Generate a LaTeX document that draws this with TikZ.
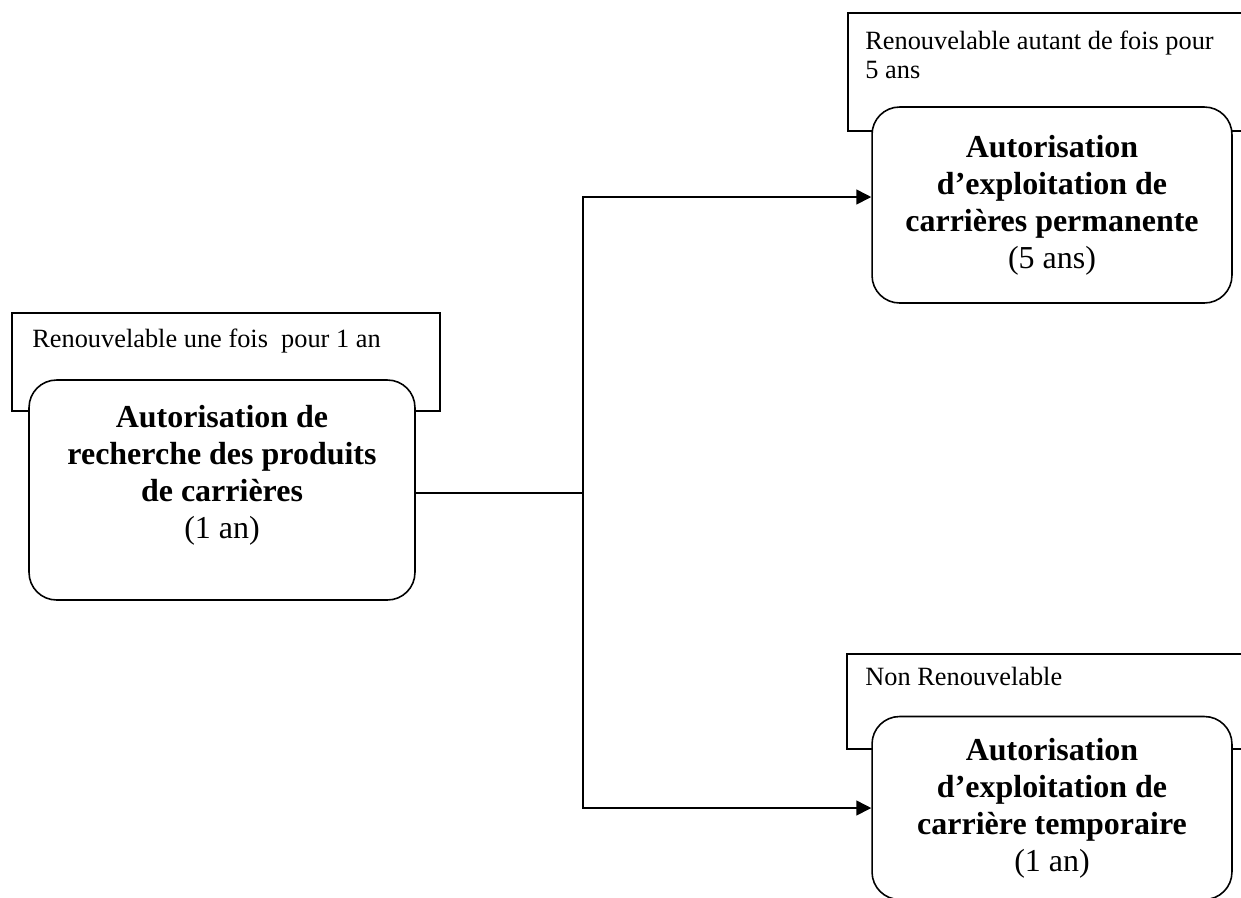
\documentclass[tikz,border=0pt]{standalone}
\usepackage{fontspec}
\setmainfont{Liberation Serif}
\usetikzlibrary{arrows.meta}

\begin{document}
\begin{tikzpicture}[x=0.02cm, y=-0.02cm,
  note/.style={draw, line width=0.9pt, anchor=north west, inner sep=0pt},
  notetext/.style={anchor=base west, inner sep=0pt, align=left, font=\fontsize{15}{16}\selectfont},
  authbox/.style={draw, fill=white, line width=0.9pt, rounded corners=0.55cm, align=center, font=\fontsize{18.2}{21}\selectfont},
  arr/.style={-{Triangle[length=0.3cm,width=0.3cm]}, line width=0.9pt}]
\useasboundingbox (0,0) rectangle (1241,897);
\clip (0,0) rectangle (1241,897);

% Notes (behind the boxes)
\node[note, minimum width=8.56cm, minimum height=1.96cm] (renewonce) at (11,312) {};
\node[notetext] (renewoncetxt) at (32,347) {Renouvelable une fois\ \ pour 1 an};

\node[note, minimum width=8.3cm, minimum height=2.36cm] (renewmany) at (847,12) {};
\node[notetext] (renewmanytxt) at (865,78) {Renouvelable autant de fois pour\\5 ans};

\node[note, minimum width=8.3cm, minimum height=1.9cm] (norenew) at (846,653) {};
\node[notetext] (norenewtxt) at (865,685) {Non Renouvelable};

% Research
\node[authbox, minimum width=7.72cm, minimum height=4.4cm] (research) at (222,490)
  {\textbf{Autorisation de}\\\textbf{recherche des produits}\\\textbf{de carrières}\\(1 an)\\\mbox{}};

% Permanent exploitation
\node[authbox, minimum width=7.2cm, minimum height=3.92cm] (permanent) at (1052,205)
  {\textbf{Autorisation}\\\textbf{d’exploitation de}\\\textbf{carrières permanente}\\(5 ans)};

% Temporary exploitation
\node[authbox, minimum width=7.2cm, minimum height=3.66cm] (temporary) at (1052,808)
  {\textbf{Autorisation}\\\textbf{d’exploitation de}\\\textbf{carrière temporaire}\\(1 an)};

% Connectors
\coordinate (fork) at (583,493);
\draw[line width=0.9pt] (research.east |- fork) -- (fork);
\draw[arr] (fork) |- ([yshift=0.16cm]permanent.west);
\draw[arr] (fork) |- (temporary.west);
\end{tikzpicture}
\end{document}
